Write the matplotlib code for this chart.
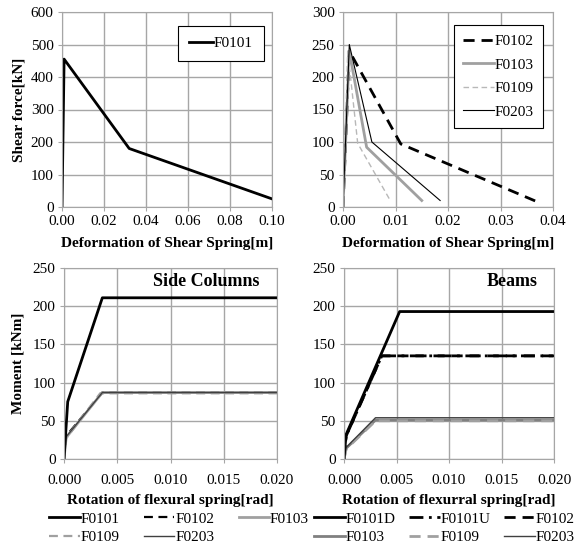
import matplotlib
matplotlib.use("Agg")
import matplotlib.pyplot as plt

plt.rcParams['font.family'] = ['Liberation Serif', 'DejaVu Serif']

W, H = 583, 544

# shear spring: deformation [m] vs shear force [kN]
sh_f0101_x = [0.0, 0.001, 0.032, 0.100]
sh_f0101_y = [0, 455, 180, 25]

sh_f0102_x = [0.0, 0.0012, 0.011, 0.037]
sh_f0102_y = [0, 240, 97, 8]
sh_f0103_x = [0.0, 0.0012, 0.0045, 0.015]
sh_f0103_y = [0, 240, 92, 10]
sh_f0109_x = [0.0, 0.0009, 0.0028, 0.009]
sh_f0109_y = [0, 240, 98, 10]
sh_f0203_x = [0.0, 0.0012, 0.0055, 0.0185]
sh_f0203_y = [0, 250, 100, 10]

# flexural spring, side columns
col_f0101_x = [0.0, 0.00035, 0.0036, 0.020]
col_f0101_y = [0, 75, 211, 211]
col_f0102_x = [0.0, 0.0002, 0.0036, 0.020]
col_f0102_y = [0, 30, 87, 87]
col_f0103_x = [0.0, 0.0002, 0.0036, 0.020]
col_f0103_y = [0, 28, 87, 87]
col_f0109_x = [0.0, 0.0002, 0.0034, 0.020]
col_f0109_y = [0, 27, 86, 86]
col_f0203_x = [0.0, 0.0002, 0.0036, 0.020]
col_f0203_y = [0, 29, 87, 87]

# flexural spring, beams
bm_f0101d_x = [0.0, 0.0002, 0.0053, 0.020]
bm_f0101d_y = [0, 32, 193, 193]
bm_f0101u_x = [0.0, 0.0002, 0.0036, 0.020]
bm_f0101u_y = [0, 30, 135, 135]
bm_f0102_x = [0.0, 0.0002, 0.0036, 0.020]
bm_f0102_y = [0, 30, 135, 135]
bm_f0103_x = [0.0, 0.0002, 0.0030, 0.020]
bm_f0103_y = [0, 14, 51, 51]
bm_f0109_x = [0.0, 0.0002, 0.0030, 0.020]
bm_f0109_y = [0, 13, 50, 50]
bm_f0203_x = [0.0, 0.0002, 0.0030, 0.020]
bm_f0203_y = [0, 15, 54, 54]

GRID = '#a6a6a6'
TXT = 11


def box(l, r, t, b):
    return [l / W, 1 - b / H, (r - l) / W, (b - t) / H]


def style(ax):
    ax.grid(True, color=GRID, lw=1.0)
    ax.set_axisbelow(True)
    for s in ax.spines.values():
        s.set_color(GRID)
    ax.tick_params(length=3, color=GRID, labelsize=TXT, pad=3)


def rows_first(items, ncol):
    # legend fills columns first, reorder so entries read across rows
    return [items[i] for c in range(ncol) for i in range(c, len(items), ncol)]


fig = plt.figure(figsize=(W / 100, H / 100), dpi=100)

ax1 = fig.add_axes(box(62, 272, 12, 207))
ax2 = fig.add_axes(box(343, 553, 12, 207))
ax3 = fig.add_axes(box(64, 277, 268, 459))
ax4 = fig.add_axes(box(344, 554, 268, 459))

# top left
ax1.plot(sh_f0101_x, sh_f0101_y, color='black', lw=2, label='F0101')
ax1.set_xlim(0, 0.10)
ax1.set_ylim(0, 600)
ax1.set_xticks([0, 0.02, 0.04, 0.06, 0.08, 0.10])
ax1.set_xticklabels(['0.00', '0.02', '0.04', '0.06', '0.08', '0.10'])
ax1.set_yticks(range(0, 601, 100))
ax1.set_xlabel('Deformation of Shear Spring[m]', fontsize=TXT, fontweight='bold', labelpad=6)
ax1.set_ylabel('Shear force[kN]', fontsize=TXT, fontweight='bold', labelpad=4)
style(ax1)
leg = ax1.legend(loc='upper right', bbox_to_anchor=(0.96, 0.93), fontsize=TXT, fancybox=False,
                 edgecolor='black', framealpha=1, handlelength=1.6, handletextpad=0.05,
                 borderpad=0.7, borderaxespad=0)
leg.get_frame().set_linewidth(0.8)

# top right
ax2.plot(sh_f0102_x, sh_f0102_y, color='black', lw=2, ls=(0, (4, 2.5)), label='F0102')
ax2.plot(sh_f0103_x, sh_f0103_y, color='#a0a0a0', lw=2, label='F0103')
ax2.plot(sh_f0109_x, sh_f0109_y, color='#b8b8b8', lw=1.0, ls=(0, (4, 2.5)), label='F0109')
ax2.plot(sh_f0203_x, sh_f0203_y, color='black', lw=0.8, label='F0203')
ax2.set_xlim(0, 0.04)
ax2.set_ylim(0, 300)
ax2.set_xticks([0, 0.01, 0.02, 0.03, 0.04])
ax2.set_xticklabels(['0.00', '0.01', '0.02', '0.03', '0.04'])
ax2.set_yticks(range(0, 301, 50))
ax2.set_xlabel('Deformation of Shear Spring[m]', fontsize=TXT, fontweight='bold', labelpad=6)
style(ax2)
leg = ax2.legend(loc='upper right', bbox_to_anchor=(0.952, 0.933), fontsize=TXT, fancybox=False,
                 edgecolor='black', framealpha=1, handlelength=2.0, handletextpad=0.05,
                 borderpad=0.6, labelspacing=0.65, borderaxespad=0)
leg.get_frame().set_linewidth(0.8)

# bottom left: side columns
ax3.plot(col_f0102_x, col_f0102_y, color='black', lw=1.6, ls=(0, (4, 2.5)), label='F0102')
ax3.plot(col_f0103_x, col_f0103_y, color='#a0a0a0', lw=2, label='F0103')
ax3.plot(col_f0109_x, col_f0109_y, color='#a0a0a0', lw=1.6, ls=(0, (4, 2.5)), label='F0109')
ax3.plot(col_f0203_x, col_f0203_y, color='#404040', lw=1.0, label='F0203')
ax3.plot(col_f0101_x, col_f0101_y, color='black', lw=2, label='F0101')
ax3.set_xlim(0, 0.02)
ax3.set_ylim(0, 250)
ax3.set_xticks([0, 0.005, 0.010, 0.015, 0.020])
ax3.set_xticklabels(['0.000', '0.005', '0.010', '0.015', '0.020'])
ax3.set_yticks(range(0, 251, 50))
ax3.set_xlabel('Rotation of flexural spring[rad]', fontsize=TXT, fontweight='bold', labelpad=5)
ax3.set_ylabel('Moment [kNm]', fontsize=TXT, fontweight='bold', labelpad=6)
ax3.text(0.92, 0.93, 'Side Columns', transform=ax3.transAxes, ha='right', va='center',
         fontsize=13, fontweight='bold')
style(ax3)
ax3.tick_params(axis='x', pad=8)
h, l = ax3.get_legend_handles_labels()
order = rows_first([4, 0, 1, 2, 3], 3)
fig.legend([h[i] for i in order], [l[i] for i in order], loc='upper left',
           bbox_to_anchor=(49 / W, 1 - 512 / H), ncol=3, frameon=False, fontsize=TXT,
           handlelength=2.0, handletextpad=0.05, columnspacing=1.6, labelspacing=0.3,
           borderaxespad=0, borderpad=0)

# bottom right: beams
ax4.plot(bm_f0102_x, bm_f0102_y, color='black', lw=2, ls=(0, (4, 2.5)), label='F0102')
ax4.plot(bm_f0101u_x, bm_f0101u_y, color='black', lw=2, ls=(0, (5, 2, 1, 2)), label='F0101U')
ax4.plot(bm_f0103_x, bm_f0103_y, color='#808080', lw=2, label='F0103')
ax4.plot(bm_f0109_x, bm_f0109_y, color='#a0a0a0', lw=2, ls=(0, (4, 2.5)), label='F0109')
ax4.plot(bm_f0203_x, bm_f0203_y, color='#404040', lw=1.0, label='F0203')
ax4.plot(bm_f0101d_x, bm_f0101d_y, color='black', lw=2, label='F0101D')
ax4.set_xlim(0, 0.02)
ax4.set_ylim(0, 250)
ax4.set_xticks([0, 0.005, 0.010, 0.015, 0.020])
ax4.set_xticklabels(['0.000', '0.005', '0.010', '0.015', '0.020'])
ax4.set_yticks(range(0, 251, 50))
ax4.set_xlabel('Rotation of flexurral spring[rad]', fontsize=TXT, fontweight='bold', labelpad=5)
ax4.text(0.924, 0.93, 'Beams', transform=ax4.transAxes, ha='right', va='center',
         fontsize=13, fontweight='bold')
style(ax4)
ax4.tick_params(axis='x', pad=8)
h, l = ax4.get_legend_handles_labels()
order = rows_first([5, 1, 0, 2, 3, 4], 3)
fig.legend([h[i] for i in order], [l[i] for i in order], loc='upper left',
           bbox_to_anchor=(314 / W, 1 - 512 / H), ncol=3, frameon=False, fontsize=TXT,
           handlelength=2.0, handletextpad=0.05, columnspacing=0.9, labelspacing=0.3,
           borderaxespad=0, borderpad=0)

fig.savefig('out.png', dpi=100)
